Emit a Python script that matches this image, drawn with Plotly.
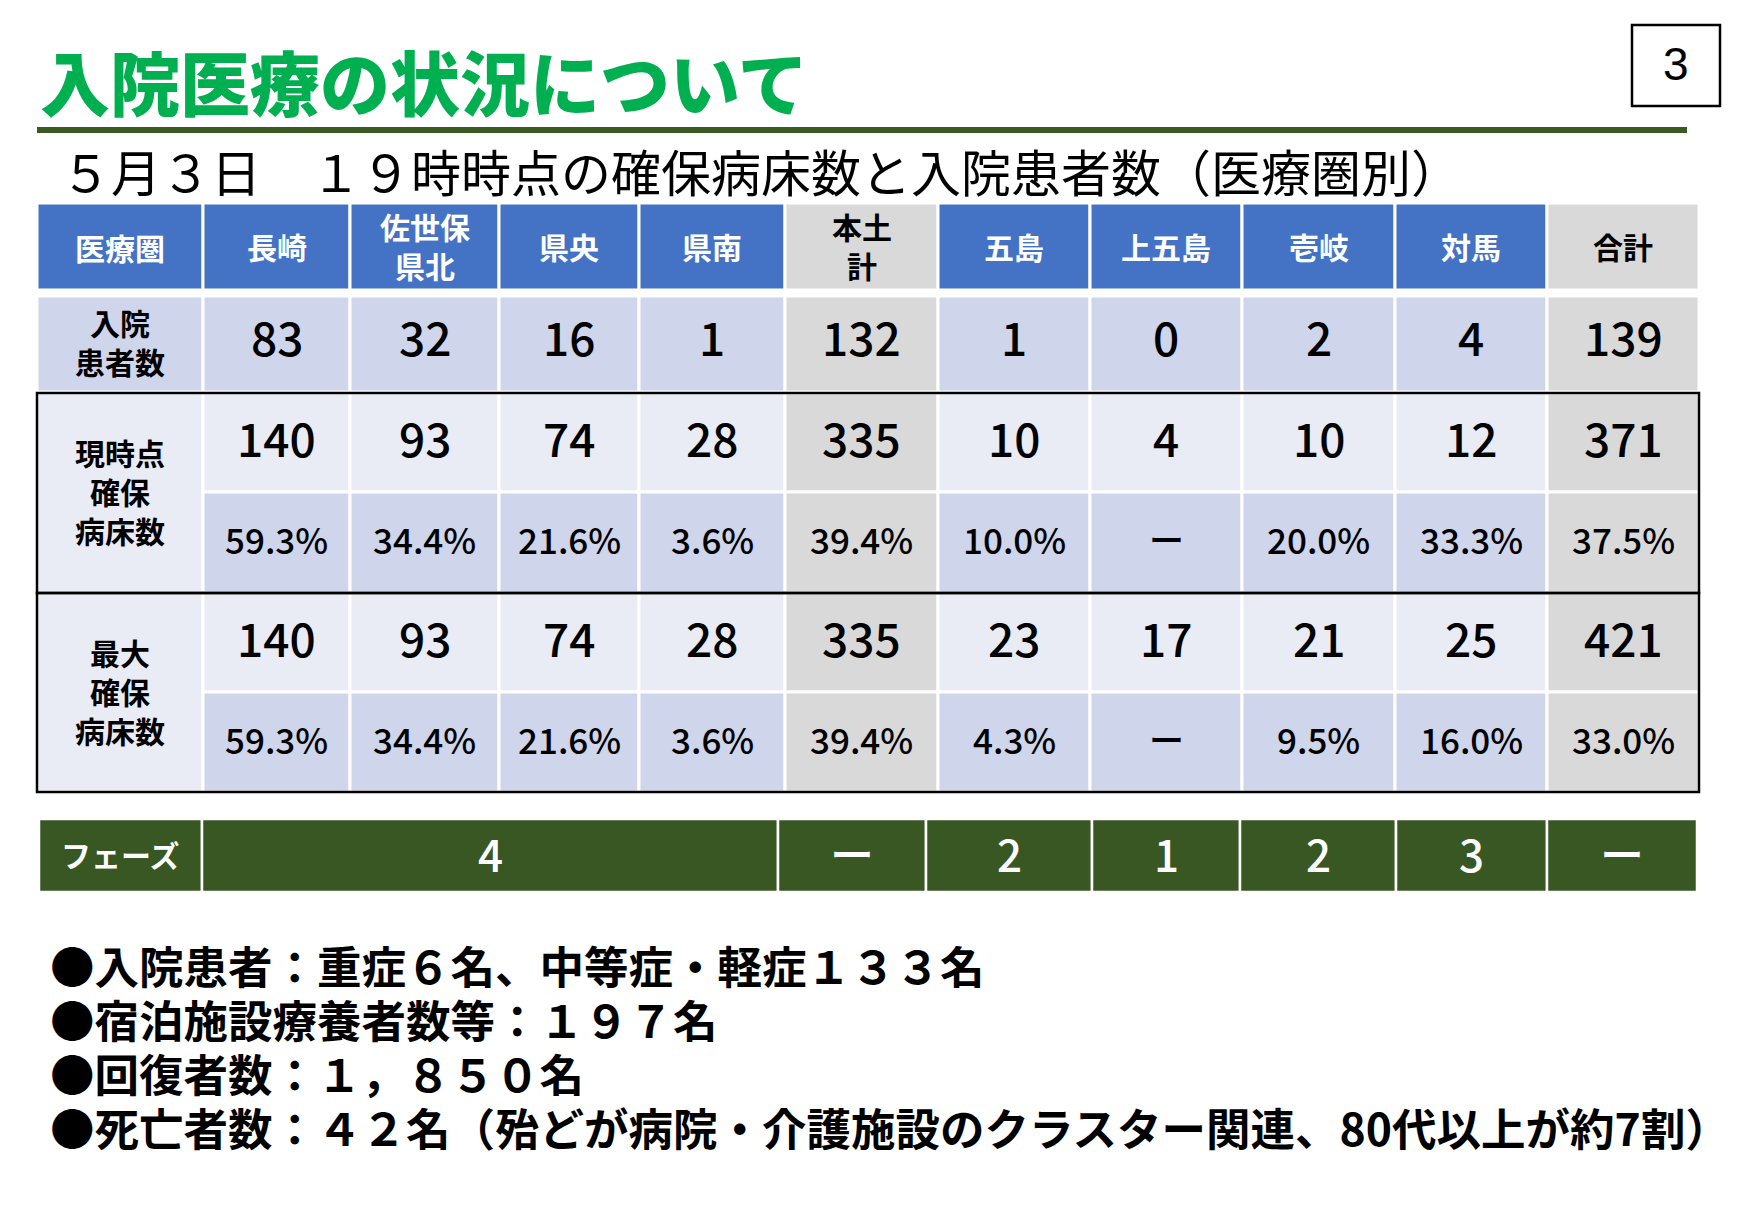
import plotly.graph_objects as go

# ---------------- data ----------------
title = "入院医療の状況について"
subtitle = "５月３日　１９時時点の確保病床数と入院患者数（医療圏別）"
page_no = "3"
corner_label = "医療圏"
areas = ["長崎", "佐世保<br>県北", "県央", "県南", "本土<br>計", "五島", "上五島", "壱岐", "対馬", "合計"]
total_areas = ["本土<br>計", "合計"]
row_labels = ["入院<br>患者数", "現時点<br>確保<br>病床数", "最大<br>確保<br>病床数"]
patients = [83, 32, 16, 1, 132, 1, 0, 2, 4, 139]
beds_now = [140, 93, 74, 28, 335, 10, 4, 10, 12, 371]
rate_now = ["59.3%", "34.4%", "21.6%", "3.6%", "39.4%", "10.0%", "ー", "20.0%", "33.3%", "37.5%"]
beds_max = [140, 93, 74, 28, 335, 23, 17, 21, 25, 421]
rate_max = ["59.3%", "34.4%", "21.6%", "3.6%", "39.4%", "4.3%", "ー", "9.5%", "16.0%", "33.0%"]
phase_label = "フェーズ"
phase_values = ["4", "ー", "2", "1", "2", "3", "ー"]
notes = [
    "●入院患者：重症６名、中等症・軽症１３３名",
    "●宿泊施設療養者数等：１９７名",
    "●回復者数：１，８５０名",
    "●死亡者数：４２名（殆どが病院・介護施設のクラスター関連、80代以上が約7割）",
]

# ---------------- layout grid (page pixels) ----------------
W, H = 1754, 1227
BODY = 8  # default page margin of the html body
col_edges = [37, 203, 350, 499, 639, 785, 938, 1090, 1242, 1395, 1547, 1699]
phase_edges = [39, 202, 778, 926, 1092, 1240, 1396, 1547, 1697]
header_band = (203, 290)
patient_band = (296, 392)
now_bands = (393, 492, 593)
max_bands = (593, 692, 792)
phase_band = (819, 892)
notes_top, notes_pitch = 964, 54

BLUE = "#4472C4"
GRAY = "#D9D9D9"
MID = "#CFD5EA"
LIGHT = "#E9EBF5"
DKGREEN = "#385723"
TITLEGREEN = "#00B050"
FONT = "Noto Sans CJK JP"

fig = go.Figure()
shapes = []
ann = []


def cell(x0, x1, y0, y1, fill, lw=3, lc="white"):
    shapes.append(dict(type="rect", xref="x", yref="y", x0=x0, x1=x1, y0=y0, y1=y1,
                       fillcolor=fill, line=dict(color=lc, width=lw), layer="below"))


def text(x, y, s, size, color="black", weight="normal", xanchor="center", family=FONT, align="center"):
    ann.append(dict(x=x, y=y, xref="x", yref="y", text=s, showarrow=False,
                    xanchor=xanchor, yanchor="middle", align=align, borderpad=0,
                    font=dict(family=family, size=size, color=color, weight=weight)))


LBL = 30
NUM = 46
PCT = 35

# header row
cell(col_edges[0], col_edges[1], *header_band, BLUE)
text((col_edges[0] + col_edges[1]) / 2, sum(header_band) / 2, corner_label, LBL, "white", "bold")
for i, a in enumerate(areas):
    x0, x1 = col_edges[i + 1], col_edges[i + 2]
    is_tot = a in total_areas
    cell(x0, x1, *header_band, GRAY if is_tot else BLUE)
    text((x0 + x1) / 2, sum(header_band) / 2 - 1, a, LBL, "black" if is_tot else "white", "bold")

# patients row
cell(col_edges[0], col_edges[1], *patient_band, MID)
text((col_edges[0] + col_edges[1]) / 2, sum(patient_band) / 2 - 3, row_labels[0], LBL, "black", "bold")
for i, a in enumerate(areas):
    x0, x1 = col_edges[i + 1], col_edges[i + 2]
    cell(x0, x1, *patient_band, GRAY if a in total_areas else MID)
    text((x0 + x1) / 2, sum(patient_band) / 2 - 8, str(patients[i]), NUM, "black", 500)

# bed groups
for label, bands, nums, rates in [(row_labels[1], now_bands, beds_now, rate_now),
                                  (row_labels[2], max_bands, beds_max, rate_max)]:
    ya, yb, yc = bands
    cell(col_edges[0], col_edges[1], ya, yc, LIGHT)
    text((col_edges[0] + col_edges[1]) / 2, (ya + yc) / 2 - 2, label, LBL, "black", "bold")
    for i, a in enumerate(areas):
        x0, x1 = col_edges[i + 1], col_edges[i + 2]
        tot = a in total_areas
        cell(x0, x1, ya, yb, GRAY if tot else LIGHT)
        cell(x0, x1, yb, yc, GRAY if tot else MID)
        text((x0 + x1) / 2, (ya + yb) / 2 - 6, str(nums[i]), NUM, "black", 500)
        text((x0 + x1) / 2, (yb + yc) / 2 - 4, rates[i], PCT, "black", 500)
    shapes.append(dict(type="rect", xref="x", yref="y", x0=col_edges[0], x1=col_edges[-1],
                       y0=ya, y1=yc, line=dict(color="black", width=2.5),
                       fillcolor="rgba(0,0,0,0)", layer="above"))

# phase row
cell(phase_edges[0], phase_edges[1], *phase_band, DKGREEN, lw=2.5)
text((phase_edges[0] + phase_edges[1]) / 2, sum(phase_band) / 2 - 2, phase_label, LBL, "white", "bold")
for i, v in enumerate(phase_values):
    x0, x1 = phase_edges[i + 1], phase_edges[i + 2]
    cell(x0, x1, *phase_band, DKGREEN, lw=2.5)
    text((x0 + x1) / 2, sum(phase_band) / 2 - 3, v, 44, "white", 500)

# title, rule, subtitle, page number
text(39, 80, title, 70, TITLEGREEN, 900, xanchor="left")
shapes.append(dict(type="line", xref="x", yref="y", x0=37, x1=1687, y0=130, y1=130,
                   line=dict(color="#3B5A23", width=6)))
text(60, 170, subtitle, 50, "black", "normal", xanchor="left")
shapes.append(dict(type="rect", xref="x", yref="y", x0=1632, x1=1720, y0=25, y1=106,
                   line=dict(color="black", width=2.5), fillcolor="white"))
text(1676, 64, page_no, 46, "black", "normal", family="Liberation Sans")

# notes
for k, s in enumerate(notes):
    text(49, notes_top + k * notes_pitch, s, 44.5, "black", "bold", xanchor="left", align="left")

fig.update_layout(
    width=W - 2 * BODY, height=H - 2 * BODY, margin=dict(l=0, r=0, t=0, b=0),
    paper_bgcolor="white", plot_bgcolor="white",
    shapes=shapes, annotations=ann, showlegend=False,
    xaxis=dict(range=[BODY, W - BODY], visible=False, fixedrange=True),
    yaxis=dict(range=[H - BODY, BODY], visible=False, fixedrange=True),
)
fig.write_html("out.html")
